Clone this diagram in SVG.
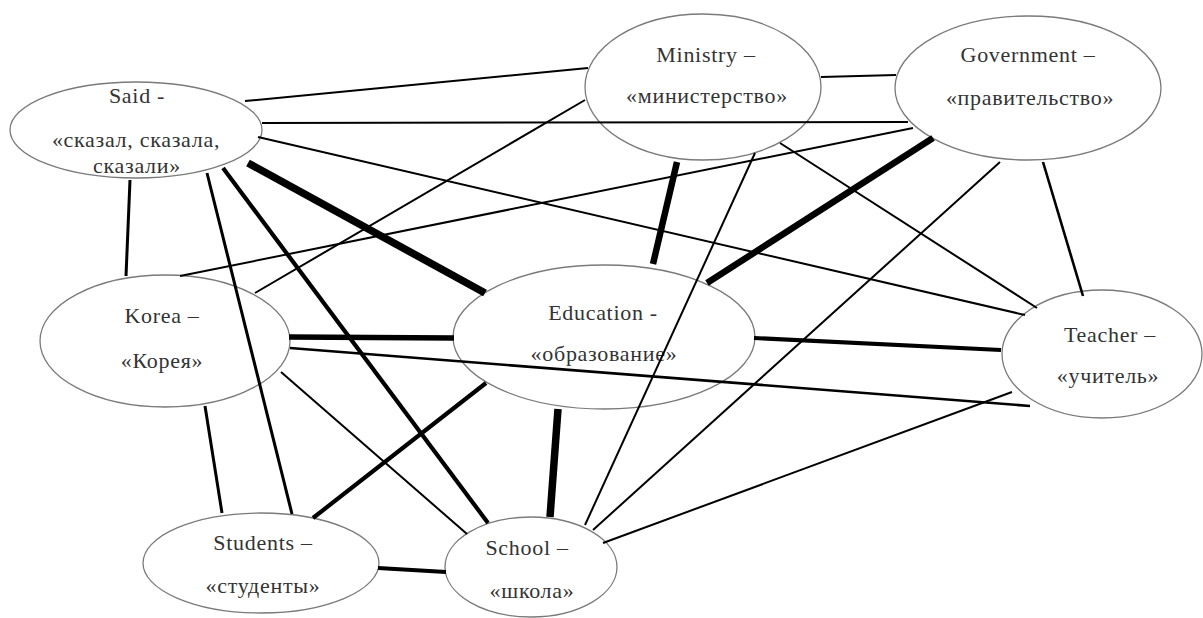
<svg xmlns="http://www.w3.org/2000/svg" width="1203" height="618" viewBox="0 0 1203 618">
<style>
.node ellipse{fill:#fff;stroke:#7a7a7a;stroke-width:1.3}
.node text{font-family:"Liberation Serif","Times New Roman",serif;font-size:22px;letter-spacing:0.7px;fill:#333;text-anchor:middle}
#edges line{stroke:#000;stroke-linecap:butt}
.w2{stroke-width:2}
.w25{stroke-width:2.6}
.w3{stroke-width:3}
.w4{stroke-width:4.2}
.w5{stroke-width:5.5}
.w6{stroke-width:6.5}
.w7{stroke-width:7.5}
</style>
<rect width="1203" height="618" fill="#fff"/>
<g id="n-said" class="node"><ellipse cx="136" cy="130" rx="126" ry="48"/><text x="137" y="103">Said -</text><text x="136" y="147">«сказал, сказала,</text><text x="137" y="173">сказали»</text></g>
<g id="n-ministry" class="node"><ellipse cx="703" cy="87" rx="118" ry="73"/><text x="706" y="62">Ministry –</text><text x="707" y="103">«министерство»</text></g>
<g id="n-government" class="node"><ellipse cx="1028" cy="88" rx="133" ry="72"/><text x="1028" y="62">Government –</text><text x="1030" y="105">«правительство»</text></g>
<g id="n-korea" class="node"><ellipse cx="165" cy="341" rx="125" ry="66"/><text x="162" y="323">Korea –</text><text x="162" y="368">«Корея»</text></g>
<g id="n-education" class="node"><ellipse cx="604" cy="337" rx="151" ry="72"/><text x="603" y="320">Education -</text><text x="604" y="361">«образование»</text></g>
<g id="n-teacher" class="node"><ellipse cx="1102" cy="354" rx="100" ry="64"/><text x="1110" y="342">Teacher –</text><text x="1108" y="383">«учитель»</text></g>
<g id="n-students" class="node"><ellipse cx="261" cy="563" rx="118" ry="50"/><text x="263" y="550">Students –</text><text x="263" y="593">«студенты»</text></g>
<g id="n-school" class="node"><ellipse cx="531" cy="567" rx="86" ry="50"/><text x="527" y="555">School –</text><text x="532" y="598">«школа»</text></g>
<g id="edges">
<line class="w2" x1="245" y1="101" x2="588" y2="68"/>
<line class="w2" x1="262" y1="123" x2="908" y2="122"/>
<line class="w2" x1="821" y1="77" x2="896" y2="75"/>
<line class="w2" x1="258" y1="137" x2="1025" y2="315"/>
<line class="w2" x1="255" y1="293" x2="585" y2="100"/>
<line class="w2" x1="180" y1="276" x2="913" y2="128"/>
<line class="w2" x1="780" y1="143" x2="1037" y2="308"/>
<line class="w2" x1="755" y1="153" x2="585" y2="525"/>
<line class="w2" x1="1000" y1="162" x2="593" y2="530"/>
<line class="w2" x1="1012" y1="392" x2="603" y2="543"/>
<line class="w2" x1="281" y1="372" x2="467" y2="534"/>
<line class="w25" x1="1043" y1="162" x2="1083" y2="296"/>
<line class="w25" x1="290" y1="348" x2="1030" y2="406"/>
<line class="w3" x1="130" y1="180" x2="126" y2="276"/>
<line class="w3" x1="207" y1="173" x2="292" y2="514"/>
<line class="w3" x1="205" y1="406" x2="222" y2="513"/>
<line class="w4" x1="223" y1="168" x2="488" y2="523"/>
<line class="w4" x1="486" y1="383" x2="313" y2="518"/>
<line class="w4" x1="378" y1="568" x2="446" y2="572"/>
<line class="w4" x1="754" y1="338" x2="1001" y2="350"/>
<line class="w7" x1="248" y1="163" x2="485" y2="293"/>
<line class="w6" x1="677" y1="162" x2="653" y2="264"/>
<line class="w6" x1="933" y1="138" x2="707" y2="283"/>
<line class="w5" x1="289" y1="337" x2="454" y2="338"/>
<line class="w7" x1="558" y1="409" x2="550" y2="517"/>
</g>
</svg>
